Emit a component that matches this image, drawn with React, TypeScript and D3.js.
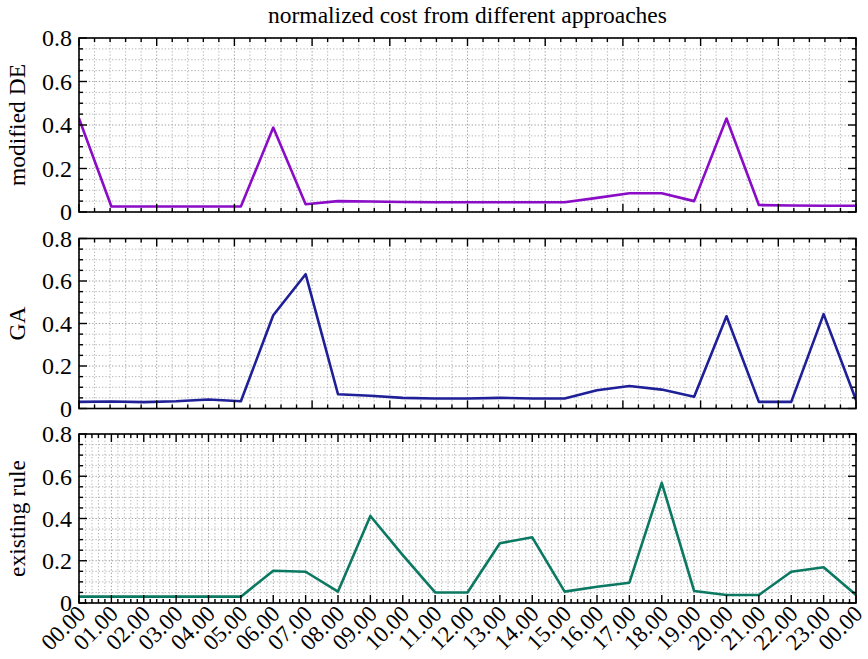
import React from "react";
import * as d3 from "d3";

const hours = ["00.00","01.00","02.00","03.00","04.00","05.00","06.00","07.00","08.00","09.00","10.00","11.00","12.00","13.00","14.00","15.00","16.00","17.00","18.00","19.00","20.00","21.00","22.00","23.00","00.00"];

const modifiedDE = [0.43,0.025,0.025,0.025,0.025,0.025,0.388,0.036,0.05,0.048,0.046,0.045,0.045,0.045,0.045,0.045,0.065,0.086,0.086,0.05,0.43,0.032,0.03,0.029,0.029];
const gaValues = [0.031,0.033,0.03,0.034,0.042,0.034,0.439,0.632,0.067,0.06,0.05,0.047,0.047,0.05,0.047,0.047,0.086,0.106,0.089,0.055,0.434,0.031,0.031,0.444,0.04];
const existingRule = [0.03,0.03,0.03,0.03,0.03,0.03,0.153,0.148,0.054,0.412,0.227,0.05,0.05,0.283,0.311,0.054,0.077,0.096,0.569,0.057,0.038,0.038,0.148,0.169,0.038];

const yTicks = [0, 0.2, 0.4, 0.6, 0.8];
const yTickLabels = ["0", "0.2", "0.4", "0.6", "0.8"];

const W = 868, H = 659;
const X0 = 79, X1 = 856;
const font = "'Liberation Serif', 'Times New Roman', serif";

const panels = [
  { label: "modified DE", values: modifiedDE, color: "#8a0cc6", top: 38, bottom: 212, dense: false },
  { label: "GA", values: gaValues, color: "#1f1f98", top: 238.5, bottom: 408.5, dense: false },
  { label: "existing rule", values: existingRule, color: "#0b7862", top: 434, bottom: 603, dense: true },
];

const x = d3.scaleLinear().domain([0, 24]).range([X0, X1]);

function Panel({ p }: { p: typeof panels[number] }) {
  const y = d3.scaleLinear().domain([0, 0.8]).range([p.bottom, p.top]);
  const line = d3.line<number>().x((_, i) => x(i)).y((v) => y(v));
  const minorX = p.dense ? d3.range(0, 24 * 5 + 1).map((i) => i / 5) : d3.range(0, 51).map((i) => (i * 24) / 50);
  const isMajorX = (i: number) => i % 5 === 0;
  const minorY = d3.range(0, 17).map((i) => i * 0.05);
  const clipId = "clip" + p.label.replace(/\s/g, "");
  return (
    <g>
      <defs>
        <clipPath id={clipId}>
          <rect x={X0} y={p.top} width={X1 - X0} height={p.bottom - p.top} />
        </clipPath>
      </defs>
      <g>
        {minorX.map((v, i) => (
          <line key={"gx" + i} x1={x(v)} x2={x(v)} y1={p.top} y2={p.bottom}
            stroke={isMajorX(i) ? "#9a9a9a" : "#b4b4b4"} strokeWidth={1} strokeDasharray="1.3 2" />
        ))}
        {minorY.map((v, i) => (
          <line key={"gy" + i} x1={X0} x2={X1} y1={y(v)} y2={y(v)}
            stroke={i % 4 === 0 ? "#9a9a9a" : "#b4b4b4"} strokeWidth={1} strokeDasharray="1.3 2" />
        ))}
      </g>
      <path d={line(p.values) || ""} fill="none" stroke={p.color} strokeWidth={2.6}
        strokeLinejoin="round" clipPath={`url(#${clipId})`} />
      <rect x={X0} y={p.top} width={X1 - X0} height={p.bottom - p.top} fill="none" stroke="#000" strokeWidth={1.6} />
      {minorX.map((v, i) => {
        const len = isMajorX(i) ? 8 : 4;
        return (
          <g key={"tx" + i}>
            <line x1={x(v)} x2={x(v)} y1={p.top} y2={p.top + len} stroke="#000" strokeWidth={1.4} />
            <line x1={x(v)} x2={x(v)} y1={p.bottom} y2={p.bottom - len} stroke="#000" strokeWidth={1.4} />
          </g>
        );
      })}
      {minorY.map((v, i) => {
        const len = i % 4 === 0 ? 8 : 4;
        return (
          <g key={"ty" + i}>
            <line x1={X0} x2={X0 + len} y1={y(v)} y2={y(v)} stroke="#000" strokeWidth={1.4} />
            <line x1={X1} x2={X1 - len} y1={y(v)} y2={y(v)} stroke="#000" strokeWidth={1.4} />
          </g>
        );
      })}
      {yTicks.map((v, i) => (
        <text key={"yl" + i} x={X0 - 7} y={y(v)} dy="0.35em" textAnchor="end"
          fontFamily={font} fontSize={24} fill="#000">{yTickLabels[i]}</text>
      ))}
      <text transform={`translate(25,${(p.top + p.bottom) / 2}) rotate(-90)`} textAnchor="middle"
        fontFamily={font} fontSize={23.5} fill="#000">{p.label}</text>
      {p.dense && hours.map((h, i) => (
        <text key={"xl" + i} transform={`translate(${x(i) + 8},${p.bottom + 12}) rotate(-45)`} textAnchor="end"
          fontFamily={font} fontSize={23} fill="#000">{h}</text>
      ))}
    </g>
  );
}

export default function App() {
  return (
    <svg width={W} height={H} style={{ position: "absolute", left: 0, top: 0, background: "#fff" }}>
      <rect x={0} y={0} width={W} height={H} fill="#fff" />
      <text x={(X0 + X1) / 2} y={23} textAnchor="middle" fontFamily={font} fontSize={23.5} fill="#000">
        normalized cost from different approaches
      </text>
      {panels.map((p) => (
        <Panel key={p.label} p={p} />
      ))}
    </svg>
  );
}
